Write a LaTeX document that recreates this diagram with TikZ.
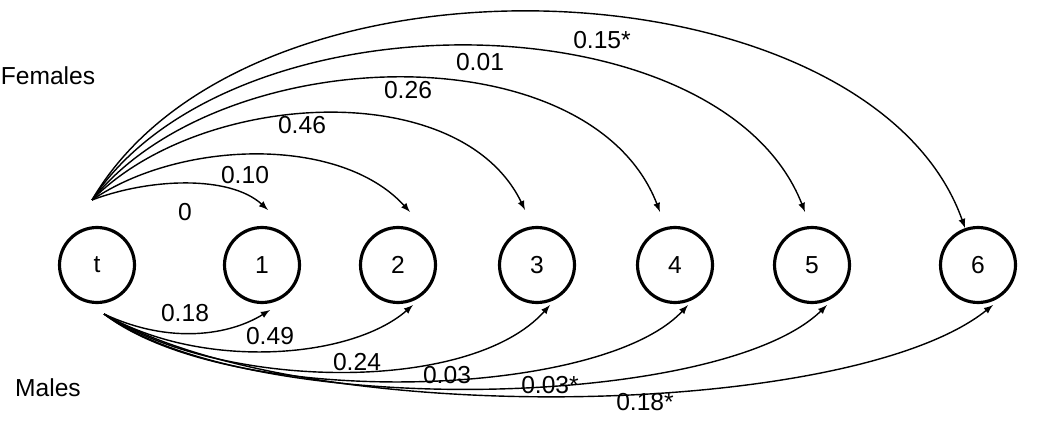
\documentclass[tikz,border=0pt]{standalone}
\usepackage{fontspec}
\setmainfont{Liberation Sans}
\usetikzlibrary{positioning}
\tikzset{stage node/.style={circle,draw,line width=1.8pt,minimum size=1.5cm,inner sep=0pt},
         lag/.style={line width=0.8pt,-latex},
         lab/.style={inner sep=1pt}
            }
\begin{document}
\fontsize{14}{16}\selectfont
\begin{tikzpicture}[x=0.02cm,y=-0.02cm]
\useasboundingbox (0,0) rectangle (1043,425);
 \node[stage node] (t) at (97,265) {t};
 \node[stage node] (s1) at (262,265) {1};
 \node[stage node] (s2) at (398,265) {2};
 \node[stage node] (s3) at (537,265) {3};
 \node[stage node] (s4) at (675,265) {4};
 \node[stage node] (s5) at (812,265) {5};
 \node[stage node] (s6) at (978,265) {6};
 \node (fem) at (48,76) {Females};
 \node (mal) at (48,388) {Males};
% females
 \coordinate (f) at (92,200);
 \draw[lag] (f) .. controls (150,178) and (230,175) .. (268,210);
 \draw[lag] (f) .. controls (180,140) and (340,135) .. (410,212);
 \draw[lag] (f) .. controls (200,90) and (460,75) .. (525,210);
 \draw[lag] (f) .. controls (220,40) and (590,30) .. (660,212);
 \draw[lag] (f) .. controls (230,-10) and (720,-5) .. (805,212);
 \draw[lag] (f) .. controls (250,-70) and (870,-40) .. (965,228);
 \node[lab] (f1) at (185,212) {0};
 \node[lab] (f2) at (245,175) {0.10};
 \node[lab] (f3) at (302,125) {0.46};
 \node[lab] (f4) at (408,90) {0.26};
 \node[lab] (f5) at (480,62) {0.01};
 \node[lab] (f6) at (602,40) {0.15*};
% males
 \coordinate (m) at (104,314);
 \draw[lag] (m) .. controls (170,345) and (230,335) .. (270,310);
 \draw[lag] (m) .. controls (200,370) and (350,360) .. (413,305);
 \draw[lag] (m) .. controls (220,390) and (470,395) .. (550,305);
 \draw[lag] (m) .. controls (230,410) and (600,400) .. (688,305);
 \draw[lag] (m) .. controls (250,420) and (720,410) .. (827,305);
 \draw[lag] (m) .. controls (300,430) and (850,420) .. (993,305);
 \node[lab] (m1) at (185,313) {0.18};
 \node[lab] (m2) at (270,336) {0.49};
 \node[lab] (m3) at (357,362) {0.24};
 \node[lab] (m4) at (447,375) {0.03};
 \node[lab] (m5) at (550,385) {0.03*};
 \node[lab] (m6) at (645,402) {0.18*};
\end{tikzpicture}
\end{document}
